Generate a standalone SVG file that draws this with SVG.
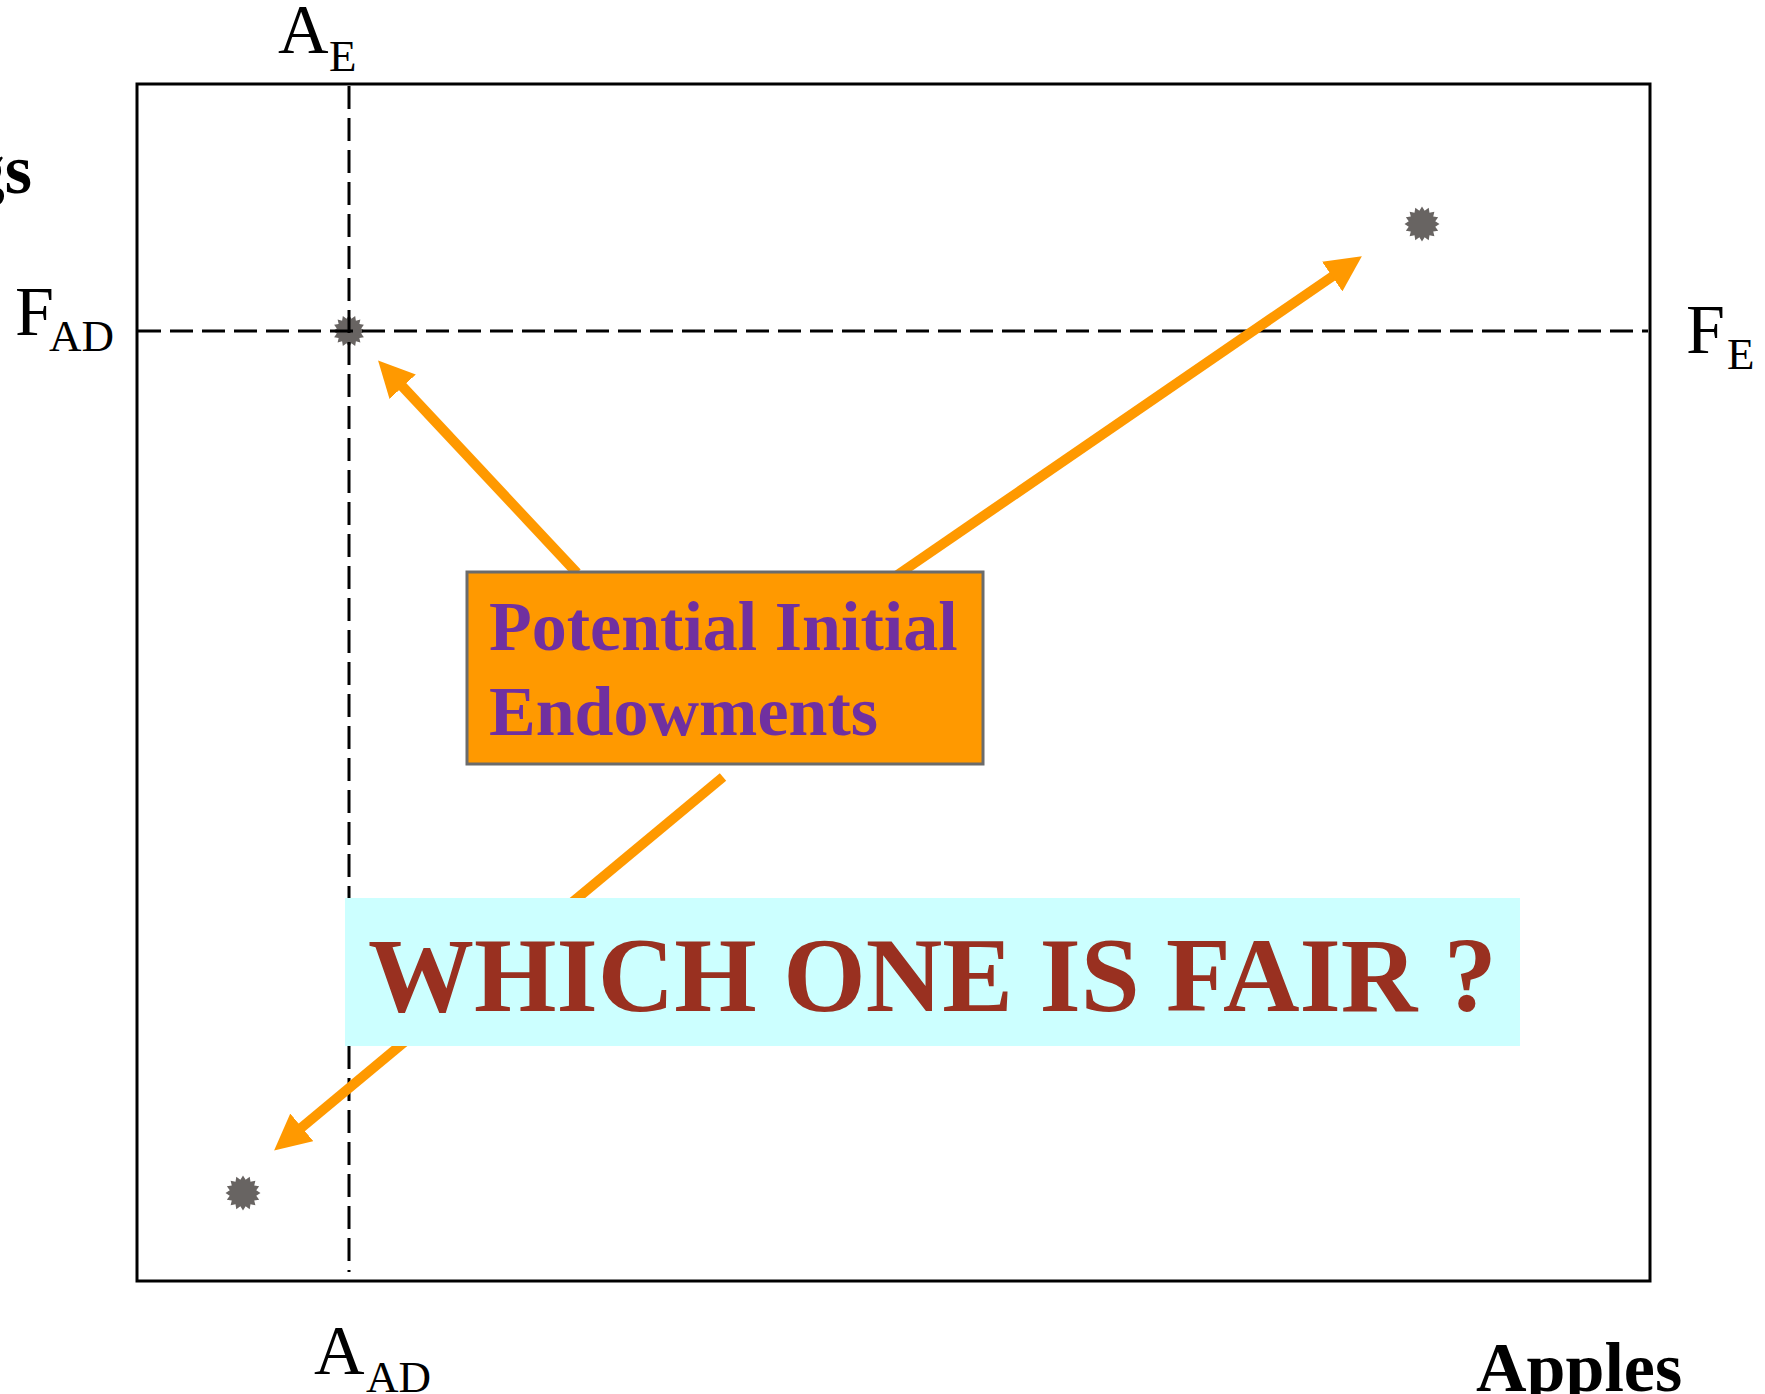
<svg xmlns="http://www.w3.org/2000/svg" xmlns:xlink="http://www.w3.org/1999/xlink" width="1765" height="1394" viewBox="0 0 1765 1394">
<style>
.frame{fill:none;stroke:#000;stroke-width:3}
.dash{fill:none;stroke:#000;stroke-width:3;stroke-dasharray:23 9}
.arrow{fill:none;stroke:#FF9900;stroke-width:10}
.lbl{font-family:"Liberation Serif","Times New Roman",serif;fill:#000}
.big{font-size:70px}
.sub{font-size:45px}
.axis{font-family:"Liberation Serif","Times New Roman",serif;font-weight:bold;font-size:70px;fill:#000}
.star{fill:#686462}
</style>
<defs>
<marker id="ah" markerUnits="userSpaceOnUse" markerWidth="36" markerHeight="36" viewBox="0 0 36 36" refX="1" refY="18" orient="auto">
<path d="M0,0 L36,18 L0,36 Z" fill="#FF9900"/>
</marker>
<polygon id="starshape" points="17.5,0 13.24,2.63 16.17,6.7 11.23,7.5 12.37,12.37 7.5,11.23 6.7,16.17 2.63,13.24 0,17.5 -2.63,13.24 -6.7,16.17 -7.5,11.23 -12.37,12.37 -11.23,7.5 -16.17,6.7 -13.24,2.63 -17.5,0 -13.24,-2.63 -16.17,-6.7 -11.23,-7.5 -12.37,-12.37 -7.5,-11.23 -6.7,-16.17 -2.63,-13.24 0,-17.5 2.63,-13.24 6.7,-16.17 7.5,-11.23 12.37,-12.37 11.23,-7.5 16.17,-6.7 13.24,-2.63"/>
</defs>
<rect width="1765" height="1394" fill="#fff"/>

<g id="frame">
<rect class="frame" x="137" y="84" width="1513" height="1197"/>
</g>

<g id="point-AD-star">
<use xlink:href="#starshape" class="star" transform="translate(349,331) scale(0.92)"/>
</g>

<g id="guides">
<line class="dash" x1="349" y1="86" x2="349" y2="1272"/>
<line class="dash" x1="138" y1="331" x2="1648" y2="331"/>
</g>

<g id="point-E-star">
<use xlink:href="#starshape" class="star" transform="translate(1422,224)"/>
</g>
<g id="point-low-star">
<use xlink:href="#starshape" class="star" transform="translate(243,1193)"/>
</g>

<g id="connectors">
<line class="arrow" x1="577" y1="573" x2="402" y2="386" marker-end="url(#ah)"/>
<line class="arrow" x1="893" y1="578" x2="1333" y2="276" marker-end="url(#ah)"/>
<line class="arrow" x1="723" y1="777" x2="301" y2="1128" marker-end="url(#ah)"/>
</g>

<g id="label-box">
<rect x="467" y="572" width="516" height="192" fill="#FF9900" stroke="#6b6b6b" stroke-width="3"/>
<text x="489" y="650" font-family="Liberation Serif, Times New Roman, serif" font-weight="bold" font-size="70" fill="#7030A0">Potential Initial</text>
<text x="489" y="735" font-family="Liberation Serif, Times New Roman, serif" font-weight="bold" font-size="70" fill="#7030A0">Endowments</text>
</g>

<g id="question-box">
<rect x="345" y="898" width="1175" height="148" fill="#CCFFFF"/>
<text x="368" y="1011" font-family="Liberation Serif, Times New Roman, serif" font-weight="bold" font-size="106" fill="#993020">WHICH ONE IS FAIR ?</text>
</g>

<g id="labels">
<text class="lbl big" x="278" y="53">A</text>
<text class="lbl sub" x="329" y="71">E</text>
<text class="lbl big" x="15" y="335">F</text>
<text class="lbl sub" x="49" y="351">AD</text>
<text class="lbl big" x="1686" y="353">F</text>
<text class="lbl sub" x="1727" y="369">E</text>
<text class="lbl big" x="314" y="1374">A</text>
<text class="lbl sub" x="366" y="1392">AD</text>
<text class="axis" x="32" y="193" text-anchor="end">gs</text>
<text class="axis" x="1476" y="1391">Apples</text>
</g>
</svg>
